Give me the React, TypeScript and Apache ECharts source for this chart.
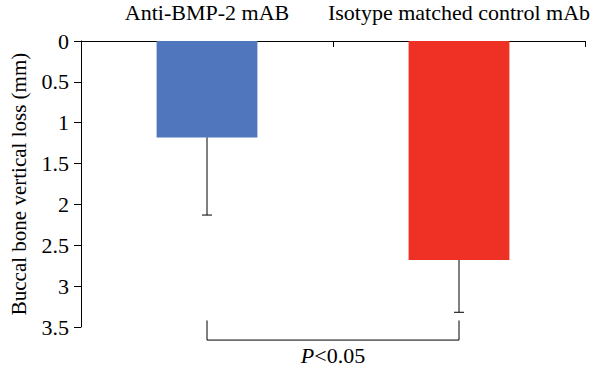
import React, { useEffect, useRef } from "react";
import * as echarts from "echarts";

const categories = ["Anti-BMP-2 mAB", "Isotype matched control mAb"];
const means = [1.18, 2.68];
const errorEnds = [2.13, 3.32];
const barColors = ["#5076BE", "#EE3124"];
const yTicks = [0, 0.5, 1, 1.5, 2, 2.5, 3, 3.5];
const bracketTop = 3.42;
const bracketBottom = 3.66;

const FONT = "'Liberation Serif', 'Times New Roman', serif";

export default function App() {
  const ref = useRef<HTMLDivElement>(null);
  useEffect(() => {
    if (!ref.current) return;
    const chart = echarts.init(ref.current, undefined, { renderer: "svg" });
    chart.setOption({
      animation: false,
      textStyle: { fontFamily: FONT, color: "#000" },
      grid: { left: 75, right: 15, top: 41, bottom: 45 },
      xAxis: {
        type: "category",
        data: categories,
        position: "top",
        boundaryGap: true,
        axisLine: { lineStyle: { color: "#000", width: 1 } },
        axisTick: { show: true, inside: true, length: 6, lineStyle: { color: "#000" } },
        axisLabel: { color: "#000", fontSize: 22, fontFamily: FONT, margin: 18, interval: 0 },
      },
      yAxis: {
        type: "value",
        inverse: true,
        min: yTicks[0],
        max: yTicks[yTicks.length - 1],
        interval: 0.5,
        name: "Buccal bone vertical loss (mm)",
        nameLocation: "middle",
        nameRotate: 90,
        nameGap: 52,
        nameTextStyle: { color: "#000", fontSize: 21, fontFamily: FONT },
        axisLine: { show: true, lineStyle: { color: "#000", width: 1 } },
        axisTick: { show: true, inside: false, length: 7, lineStyle: { color: "#000" } },
        axisLabel: { color: "#000", fontSize: 22, fontFamily: FONT, margin: 12 },
        splitLine: { show: false },
      },
      series: [
        {
          type: "bar",
          barWidth: "40%",
          data: means.map((v, i) => ({ value: v, itemStyle: { color: barColors[i] } })),
        },
        {
          type: "custom",
          data: means.map((v, i) => [i, v, errorEnds[i]]),
          renderItem: (params: any, api: any) => {
            const x = api.value(0);
            const p1 = api.coord([x, api.value(1)]);
            const p2 = api.coord([x, api.value(2)]);
            return {
              type: "group",
              children: [
                { type: "line", shape: { x1: p1[0], y1: p1[1], x2: p2[0], y2: p2[1] }, style: { stroke: "#000", lineWidth: 1 } },
                { type: "line", shape: { x1: p2[0] - 5, y1: p2[1], x2: p2[0] + 5, y2: p2[1] }, style: { stroke: "#000", lineWidth: 1 } },
              ],
            };
          },
          z: 3,
        },
        {
          type: "custom",
          clip: false,
          data: [[0, 1, bracketTop, bracketBottom]],
          renderItem: (params: any, api: any) => {
            const a = api.coord([api.value(0), api.value(2)]);
            const b = api.coord([api.value(1), api.value(3)]);
            const pts = [
              [a[0], a[1]],
              [a[0], b[1]],
              [b[0], b[1]],
              [b[0], a[1]],
            ];
            return {
              type: "group",
              children: [
                { type: "polyline", shape: { points: pts }, style: { stroke: "#000", lineWidth: 1, fill: "none" } },
                {
                  type: "text",
                  x: (a[0] + b[0]) / 2,
                  y: b[1] + 4,
                  style: {
                    text: "{i|P}{n|<0.05}",
                    rich: {
                      i: { fontStyle: "italic", fontSize: 22, fontFamily: FONT, fill: "#000" },
                      n: { fontSize: 22, fontFamily: FONT, fill: "#000" },
                    },
                    align: "center",
                    verticalAlign: "top",
                  },
                },
              ],
            };
          },
        },
      ],
    });
    return () => chart.dispose();
  }, []);
  return <div ref={ref} style={{ width: 600, height: 372, position: "absolute", left: 0, top: 0 }} />;
}
